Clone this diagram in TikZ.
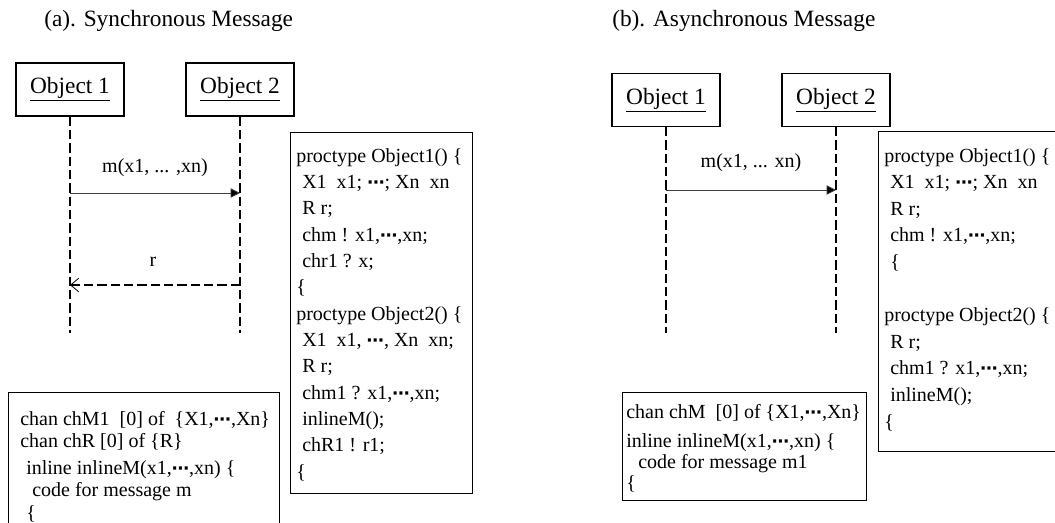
\documentclass[tikz,border=0pt]{standalone}
\usepackage{fontspec}
\setmainfont{Liberation Serif}
\newfontfamily\dotsfont{DejaVu Sans}
\usetikzlibrary{arrows.meta}
% centred ellipsis used inside the Promela fragments
\newcommand{\cdd}{{\dotsfont\bfseries\fontsize{13}{13}\selectfont ⋯}}
% small leading indent for code lines
\newcommand{\ind}{\hspace*{0.3em}}

\begin{document}
\begin{tikzpicture}[x=0.75pt,y=-0.75pt,
  every node/.style={inner sep=0pt, font=\fontsize{15}{19}\selectfont},
  bigtext/.style={font=\fontsize{17.5}{21}\selectfont},
  objbox/.style={draw, bigtext, line width=0.8pt, minimum width=81pt, minimum height=39.75pt},
  lifeline/.style={line width=1.4pt, dash pattern=on 7pt off 3pt},
  codebox/.style={draw, line width=0.9pt, anchor=north west},
  code/.style={anchor=north west, align=left},
  msg/.style={line width=0.6pt, draw=black!75, -{Triangle[length=7pt,width=7pt,fill=black]}},
  reply/.style={line width=1.4pt, dash pattern=on 7pt off 3pt,
                -{Straight Barb[length=6pt,width=10pt,line width=0.6pt]}},
]
\clip (0,0) rectangle (1055,522);

% ---------------- (a) synchronous message ----------------
\node[anchor=west, bigtext] (titleA) at (44,21) {(a). Synchronous Message};

\node[objbox] (oa1) at (70,89.5) {\underline{Object 1}};
\node[objbox] (oa2) at (240,89.5) {\underline{Object 2}};
\coordinate (la1) at (70,333);
\coordinate (la2) at (240,333);
\draw[lifeline] (oa1.south) -- (la1);
\draw[lifeline] (oa2.south) -- (la2);

\coordinate (ma1) at (70,193);
\coordinate (ma2) at (240,193);
\draw[msg] (ma1) -- (ma2);
\node (lblma) at (155,168) {m(x1, ... ,xn)};

\coordinate (ra2) at (240,285);
\coordinate (ra1) at (70,285);
\draw[reply] (ra2) -- (ra1);
\node (lblr) at (153,262) {r};

\node[codebox, minimum width=136.5pt, minimum height=270.75pt] (procA) at (290,132) {};
\node[code, font=\fontsize{15}{19.75}\selectfont] (procAtxt) at (296,148) {%
proctype Object1() \{\\
\ind X1\ \ x1; \cdd; Xn\ \ xn\\
\ind R r;\\
\ind chm ! x1,\cdd,xn;\\
\ind chr1 ? x;\\
\{\\
proctype Object2() \{\\
\ind X1\ \ x1, \cdd, Xn\ \ xn;\\
\ind R r;\\
\ind chm1 ? x1,\cdd,xn;\\
\ind inlineM();\\
\ind chR1 ! r1;\\
\{};

\node[codebox, minimum width=203.25pt, minimum height=120pt] (chanA) at (8,392) {};
\node[code, font=\fontsize{15}{16.9}\selectfont] (chanAtxt) at (20,411) {%
chan chM1\ \ [0] of\ \ \{X1,\cdd,Xn\}\\
chan chR [0] of \{R\}\\[3pt]
\ind inline inlineM(x1,\cdd,xn) \{\\
\ind\ind code for message m\\
\ind\{};

% ---------------- (b) asynchronous message ----------------
\node[anchor=west, bigtext] (titleB) at (612,21) {(b). Asynchronous Message};

\node[objbox] (ob1) at (666,100) {\underline{Object 1}};
\node[objbox] (ob2) at (836,100) {\underline{Object 2}};
\coordinate (lb1) at (666,333);
\coordinate (lb2) at (836,333);
\draw[lifeline] (ob1.south) -- (lb1);
\draw[lifeline] (ob2.south) -- (lb2);

\coordinate (mb1) at (666,190);
\coordinate (mb2) at (836,190);
\draw[msg] (mb1) -- (mb2);
\node (lblmb) at (751,163) {m(x1, ... xn)};

\node[codebox, minimum width=183pt, minimum height=81pt] (chanB) at (622,392) {};
\node[code, font=\fontsize{15}{15.8}\selectfont] (chanBtxt) at (626,404) {%
chan chM\ \ [0] of \{X1,\cdd,Xn\}\\[6pt]
inline inlineM(x1,\cdd,xn) \{\\
\ind\ind code for message m1\\
\{};

\node[codebox, minimum width=150pt, minimum height=240pt] (procB) at (878,131) {};
\node[code, font=\fontsize{15}{19.95}\selectfont] (procBtxt) at (884,148) {%
proctype Object1() \{\\
\ind X1\ \ x1; \cdd; Xn\ \ xn\\
\ind R r;\\
\ind chm ! x1,\cdd,xn;\\
\ind\{\\
\mbox{}\\
proctype Object2() \{\\
\ind R r;\\
\ind chm1 ? x1,\cdd,xn;\\
\ind inlineM();\\
\{};
\end{tikzpicture}
\end{document}
